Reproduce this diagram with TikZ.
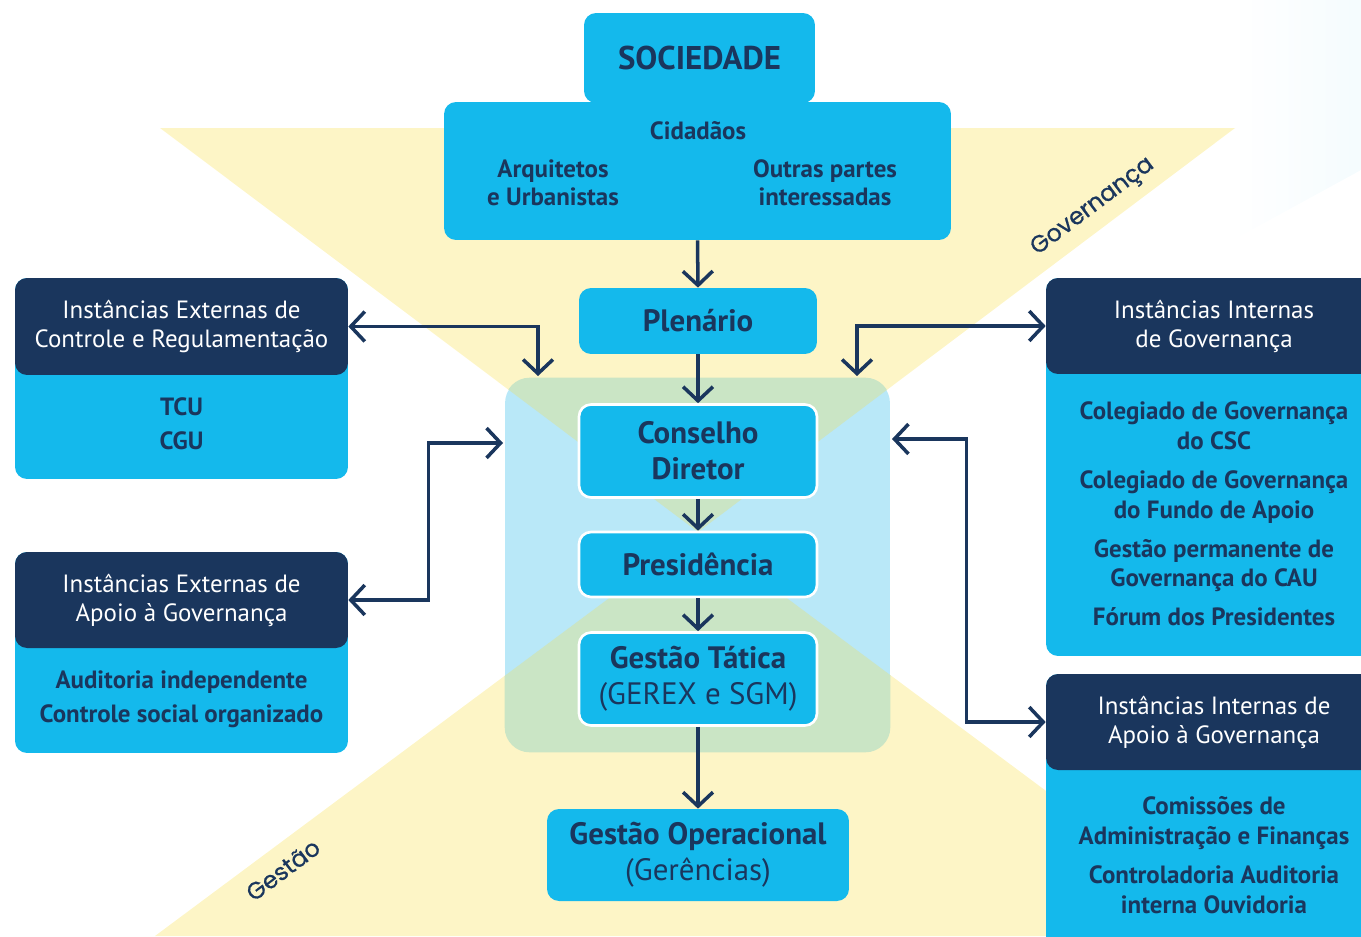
\documentclass[tikz,border=0pt]{standalone}
\usepackage{fontspec}
\setmainfont{PT Sans}
\newfontfamily\rotulofont{Poppins}[FakeBold=0.7]
\usetikzlibrary{arrows.meta}
\usetikzlibrary{positioning}

\definecolor{ciano}{RGB}{20,185,236}
\definecolor{marinho}{RGB}{26,54,93}
\definecolor{amarelo}{RGB}{253,245,198}
\definecolor{azulclaro}{RGB}{185,232,248}
\definecolor{verde}{RGB}{202,229,197}

\tikzset{
  caixa/.style={fill=ciano, text=marinho, rounded corners=0.24cm, align=center, inner sep=0pt,
    minimum width=4.76cm, font=\bfseries\fontsize{17.6}{20.3}\selectfont},
  borda/.style={draw=white, line width=1.5pt},
  cabec/.style={fill=marinho, text=white, rounded corners=0.24cm, align=center, inner sep=0pt,
    minimum width=6.66cm, minimum height=1.94cm, font=\fontsize{14.2}{16.5}\selectfont},
  corpo/.style={fill=ciano, rounded corners=0.24cm, inner sep=0pt, minimum width=6.66cm},
  lista/.style={text=marinho, align=center, inner sep=0pt, font=\bfseries\fontsize{14.2}{19.3}\selectfont},
  rotulo/.style={text=marinho, rotate=37, font=\rotulofont\fontsize{13.5}{14}\selectfont},
  seta/.style={draw=marinho, line width=2pt, -{Straight Barb[length=8pt,width=17pt]}},
  dupla/.style={draw=marinho, line width=2pt,
    {Straight Barb[length=8pt,width=17pt]}-{Straight Barb[length=8pt,width=17pt]}},
}

\begin{document}
\begin{tikzpicture}[x=0.02cm, y=-0.02cm]
  \useasboundingbox (0,0) rectangle (1361,936);
  % fundo
  \shade[left color=white, right color=azulclaro!15] (1233,0) -- (1361,0) -- (1361,170) -- (1233,240) -- cycle;
  \fill[amarelo] (160,128) -- (1235,128) -- (698,532) -- cycle;
  \fill[amarelo] (698,532) -- (155,936) -- (1241,936) -- cycle;
  \node[fill=azulclaro, rounded corners=0.5cm, minimum width=7.7cm, minimum height=7.48cm] (painel) at (697.5,565) {};
  \begin{scope}
    \clip[rounded corners=0.5cm] (painel.north west) rectangle (painel.south east);
    \fill[verde] (160,128) -- (1235,128) -- (698,532) -- cycle;
    \fill[verde] (698,532) -- (155,936) -- (1241,936) -- cycle;
  \end{scope}
  \node[rotulo] (govlab) at (1093,207) {Governança};
  \node[rotulo] (geslab) at (283,870) {Gestão};

  % sociedade
  \node[caixa, minimum width=4.62cm, minimum height=1.8cm, font=\bfseries\fontsize{18.7}{20}\selectfont] (soc) at (699.5,58) {SOCIEDADE};
  \node[caixa, minimum width=10.14cm, minimum height=2.76cm] (socbase) at (697.5,171) {};
  \node[lista, font=\bfseries\fontsize{14.2}{16}\selectfont] (cid) at (698,131) {Cidadãos};
  \node[lista, font=\bfseries\fontsize{14.2}{16}\selectfont] (arq) at (553,183) {Arquitetos\\e Urbanistas};
  \node[lista, font=\bfseries\fontsize{14.2}{16}\selectfont] (outras) at (825,183) {Outras partes\\interessadas};

  % coluna central
  \node[caixa, minimum height=1.32cm] (plen) at (698,321) {Plenário};
  \node[caixa, borda, minimum height=1.86cm] (cons) at (698,451) {Conselho\\Diretor};
  \node[caixa, borda, minimum height=1.3cm] (pres) at (698,564.5) {Presidência};
  \node[caixa, borda, minimum height=1.86cm] (tat) at (698,679) {Gestão Tática\\{\mdseries(GEREX e SGM)}};
  \node[caixa, minimum width=6.04cm, minimum height=1.84cm] (oper) at (698,855) {Gestão Operacional\\{\mdseries(Gerências)}};

  \draw[seta] (socbase.south) -- (plen.north);
  \draw[seta] (plen.south) -- (cons.north);
  \draw[seta] (cons.south) -- (pres.north);
  \draw[seta] (pres.south) -- (tat.north);
  \draw[seta] (tat.south) -- (oper.north);

  % instancias externas
  \node[corpo, minimum height=4.02cm] (ectrlb) at (181.5,378.5) {};
  \node[cabec] (ectrl) at (181.5,326.5) {Instâncias Externas de\\Controle e Regulamentação};
  \node[lista] (ectrlt) at (181.5,424) {TCU\\CGU};
  \node[corpo, minimum height=4.02cm] (eapoib) at (181.5,652.5) {};
  \node[cabec, minimum height=1.92cm] (eapoi) at (181.5,600) {Instâncias Externas de\\Apoio à Governança};
  \node[lista] (eapoit) at (181.5,699) {Auditoria independente\\Controle social organizado};

  % instancias internas
  \node[corpo, minimum width=6.72cm, minimum height=7.56cm] (igovb) at (1214,467) {};
  \node[cabec, minimum width=6.72cm, minimum height=1.92cm] (igov) at (1214,326) {Instâncias Internas\\de Governança};
  \node[lista, font=\bfseries\fontsize{14.2}{17}\selectfont] (igovt) at (1214,514)
    {Colegiado de Governança\\do CSC\\[5pt]Colegiado de Governança\\do Fundo de Apoio\\[5pt]Gestão permanente de\\Governança do CAU\\[5pt]Fórum dos Presidentes};
  \node[corpo, minimum width=6.72cm, minimum height=5.72cm] (iapoib) at (1214,817) {};
  \node[cabec, minimum width=6.72cm, minimum height=1.92cm] (iapoi) at (1214,722) {Instâncias Internas de\\Apoio à Governança};
  \node[lista, font=\bfseries\fontsize{14.2}{17}\selectfont] (iapoit) at (1214,855)
    {Comissões de\\Administração e Finanças\\[5pt]Controladoria Auditoria\\interna Ouvidoria};

  % ligacoes com o painel
  \coordinate (p1) at (538,376);
  \coordinate (p2) at (503,443);
  \coordinate (p3) at (857,376);
  \coordinate (p4) at (892,439);
  \draw[dupla] (ectrl.east) -| (p1);
  \draw[dupla] (eapoi.east) -- ++(80,0) |- (p2);
  \draw[dupla] (igov.west) -| (p3);
  \draw[dupla] (iapoi.west) -- ++(-79,0) |- (p4);
\end{tikzpicture}
\end{document}
